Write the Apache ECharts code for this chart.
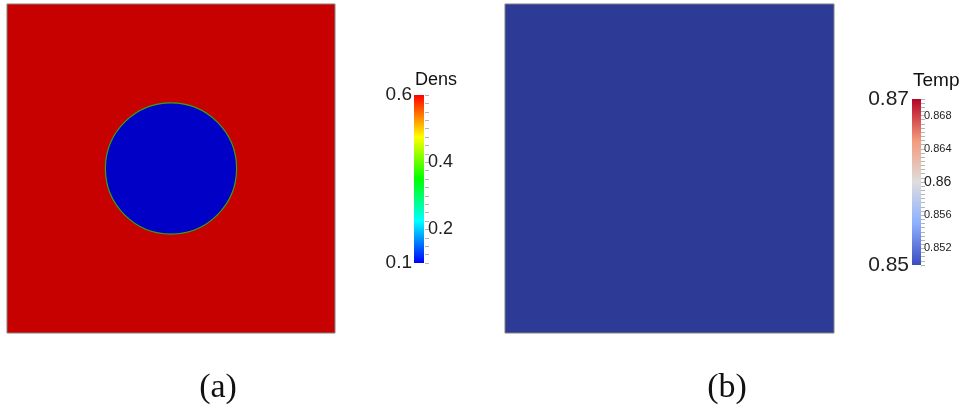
<!DOCTYPE html>
<html>
<head>
<meta charset="utf-8">
<script src="https://cdn.jsdelivr.net/npm/echarts@6/dist/echarts.min.js"></script>
<style>
html,body{margin:0;padding:0;background:#fff;}
#main{width:966px;height:411px;}
</style>
</head>
<body>
<div id="main"></div>
<script>
// ---- data ----
const densRange = [0.1, 0.6];
const tempRange = [0.85, 0.87];
const densAmbient = 0.6;          // density outside the bubble
const densBubble = 0.1;           // density inside the bubble
const bubbleCenter = [0.5, 0.5];  // domain units
const bubbleRadius = 0.2;         // domain units
const tempUniform = 0.85;         // uniform temperature
const densLabels = [0.2, 0.4];
const densEndLabels = [0.1, 0.6];
const densMinorStep = 0.025;
const tempLabels = [0.868, 0.864, 0.86, 0.856, 0.852];
const tempEndLabels = [0.85, 0.87];
const tempMinorStep = 0.0005;
const captions = ['(a)', '(b)'];
const barTitles = ['Dens', 'Temp'];

// ---- colour maps ----
const densColormap = ['#0000ff', '#00ffff', '#00ff00', '#ffff00', '#ff0000'];
const tempColormap = ['#3b4cc0', '#8db0fe', '#dddddd', '#f49a7b', '#b40426'];
const shading = 0.78;
function shade(hex, f) {
  const n = parseInt(hex.slice(1), 16);
  const r = Math.round(((n >> 16) & 255) * f), g = Math.round(((n >> 8) & 255) * f), b = Math.round((n & 255) * f);
  return 'rgb(' + r + ',' + g + ',' + b + ')';
}
function gradient(cols) {
  return new echarts.graphic.LinearGradient(0, 1, 0, 0,
    cols.map((c, i) => ({ offset: i / (cols.length - 1), color: c })));
}

const chart = echarts.init(document.getElementById('main'), null, { renderer: 'canvas' });
const FONT = 'Liberation Sans';
const hiddenAxis = (g) => ({ gridIndex: g, type: 'value', min: 0, max: 1, show: false });

function rectItem(params, api) {
  const p0 = api.coord([api.value(1), api.value(4)]);
  const p1 = api.coord([api.value(3), api.value(2)]);
  return {
    type: 'rect',
    shape: { x: p0[0], y: p0[1], width: p1[0] - p0[0], height: p1[1] - p0[1] },
    style: { fill: api.visual('color'), stroke: '#808080', lineWidth: 1 }
  };
}
function bubbleItem(params, api) {
  const c = api.coord([api.value(1), api.value(2)]);
  const s = api.size([api.value(3), api.value(3)]);
  return {
    type: 'circle',
    shape: { cx: c[0], cy: c[1], r: s[0] },
    style: { fill: api.visual('color'), stroke: shade('#40d020', shading), lineWidth: 1.2 }
  };
}
function barItem(cols) {
  return function (params, api) {
    const p0 = api.coord([0, api.value(1)]);
    const p1 = api.coord([1, api.value(0)]);
    return {
      type: 'rect',
      shape: { x: p0[0], y: p0[1], width: p1[0] - p0[0], height: p1[1] - p0[1] },
      style: { fill: gradient(cols) }
    };
  };
}

const option = {
  backgroundColor: '#ffffff',
  animation: false,
  textStyle: { fontFamily: FONT },
  grid: [
    { left: 7, top: 4, width: 328, height: 329 },
    { left: 505, top: 4, width: 329, height: 329 },
    { left: 414, top: 95, width: 10, height: 168 },
    { left: 912, top: 99, width: 9, height: 166 }
  ],
  xAxis: [hiddenAxis(0), hiddenAxis(1), hiddenAxis(2), hiddenAxis(3)],
  yAxis: [
    hiddenAxis(0), hiddenAxis(1),
    // Dens colour bar: labels + major ticks, minor ticks
    { gridIndex: 2, type: 'value', min: densRange[0], max: densRange[1], position: 'right',
      axisLine: { show: false }, splitLine: { show: false },
      axisTick: { show: true, length: 5, customValues: densLabels, lineStyle: { color: '#a8a8a8' } },
      axisLabel: { customValues: densLabels, fontSize: 18, color: '#222', margin: 4, fontFamily: FONT,
        formatter: v => v.toFixed(1) } },
    { gridIndex: 2, type: 'value', min: densRange[0], max: densRange[1], interval: densMinorStep, position: 'right', offset: 1,
      axisLine: { show: false }, splitLine: { show: false },
      axisLabel: { show: true, formatter: () => '', color: 'rgba(0,0,0,0)' },
      axisTick: { show: true, length: 4, lineStyle: { color: '#b4b4b4', width: 1 } } },
    { gridIndex: 2, type: 'value', min: densRange[0], max: densRange[1], position: 'left',
      axisLine: { show: false }, splitLine: { show: false }, axisTick: { show: false },
      axisLabel: { customValues: densEndLabels, fontSize: 19, color: '#222', margin: 2, fontFamily: FONT,
        formatter: v => v.toFixed(1) } },
    // Temp colour bar
    { gridIndex: 3, type: 'value', min: tempRange[0], max: tempRange[1], position: 'right',
      axisLine: { show: false }, splitLine: { show: false },
      axisTick: { show: true, length: 5, customValues: tempLabels, lineStyle: { color: '#a8a8a8' } },
      axisLabel: { customValues: tempLabels, fontSize: 11, color: '#222', margin: 3, fontFamily: FONT,
        formatter: v => { const s = String(+v.toFixed(3)); return s.length < 5 ? '{big|' + s + '}' : s; },
        rich: { big: { fontSize: 14, fontFamily: FONT, color: '#222' } } } },
    { gridIndex: 3, type: 'value', min: tempRange[0], max: tempRange[1], interval: tempMinorStep, position: 'right',
      axisLine: { show: false }, splitLine: { show: false },
      axisLabel: { show: true, formatter: () => '', color: 'rgba(0,0,0,0)' },
      axisTick: { show: true, length: 4, lineStyle: { color: '#b4b4b4', width: 1 } } },
    { gridIndex: 3, type: 'value', min: tempRange[0], max: tempRange[1], position: 'left',
      axisLine: { show: false }, splitLine: { show: false }, axisTick: { show: false },
      axisLabel: { customValues: tempEndLabels, fontSize: 21, color: '#222', margin: 3, fontFamily: FONT,
        formatter: v => v.toFixed(2) } }
  ],
  visualMap: [
    { type: 'continuous', show: false, seriesIndex: [0, 1], dimension: 0,
      min: densRange[0], max: densRange[1], inRange: { color: densColormap.map(c => shade(c, shading)) } },
    { type: 'continuous', show: false, seriesIndex: [2], dimension: 0,
      min: tempRange[0], max: tempRange[1], inRange: { color: tempColormap.map(c => shade(c, shading)) } }
  ],
  series: [
    { type: 'custom', xAxisIndex: 0, yAxisIndex: 0, renderItem: rectItem, encode: { x: 1, y: 2 },
      data: [[densAmbient, 0, 0, 1, 1]], silent: true },
    { type: 'custom', xAxisIndex: 0, yAxisIndex: 0, renderItem: bubbleItem, encode: { x: 1, y: 2 },
      data: [[densBubble, bubbleCenter[0], bubbleCenter[1], bubbleRadius]], silent: true, z: 3 },
    { type: 'custom', xAxisIndex: 1, yAxisIndex: 1, renderItem: rectItem, encode: { x: 1, y: 2 },
      data: [[tempUniform, 0, 0, 1, 1]], silent: true },
    { type: 'custom', xAxisIndex: 2, yAxisIndex: 2, renderItem: barItem(densColormap), encode: { y: [0, 1] },
      data: [[densRange[0], densRange[1]]], silent: true },
    { type: 'custom', xAxisIndex: 3, yAxisIndex: 5, renderItem: barItem(tempColormap), encode: { y: [0, 1] },
      data: [[tempRange[0], tempRange[1]]], silent: true }
  ],
  graphic: [
    { type: 'text', left: 415, top: 71, style: { text: barTitles[0], font: '18px "Liberation Sans"', fill: '#111' } },
    { type: 'text', left: 913, top: 71, style: { text: barTitles[1], font: '19px "Liberation Sans"', fill: '#111' } },
    { type: 'text', x: 218, y: 388, style: { text: captions[0], font: '34px "Liberation Serif"', fill: '#111', align: 'center', verticalAlign: 'middle' } },
    { type: 'text', x: 727, y: 388, style: { text: captions[1], font: '34px "Liberation Serif"', fill: '#111', align: 'center', verticalAlign: 'middle' } }
  ]
};
chart.setOption(option);
</script>
</body>
</html>
